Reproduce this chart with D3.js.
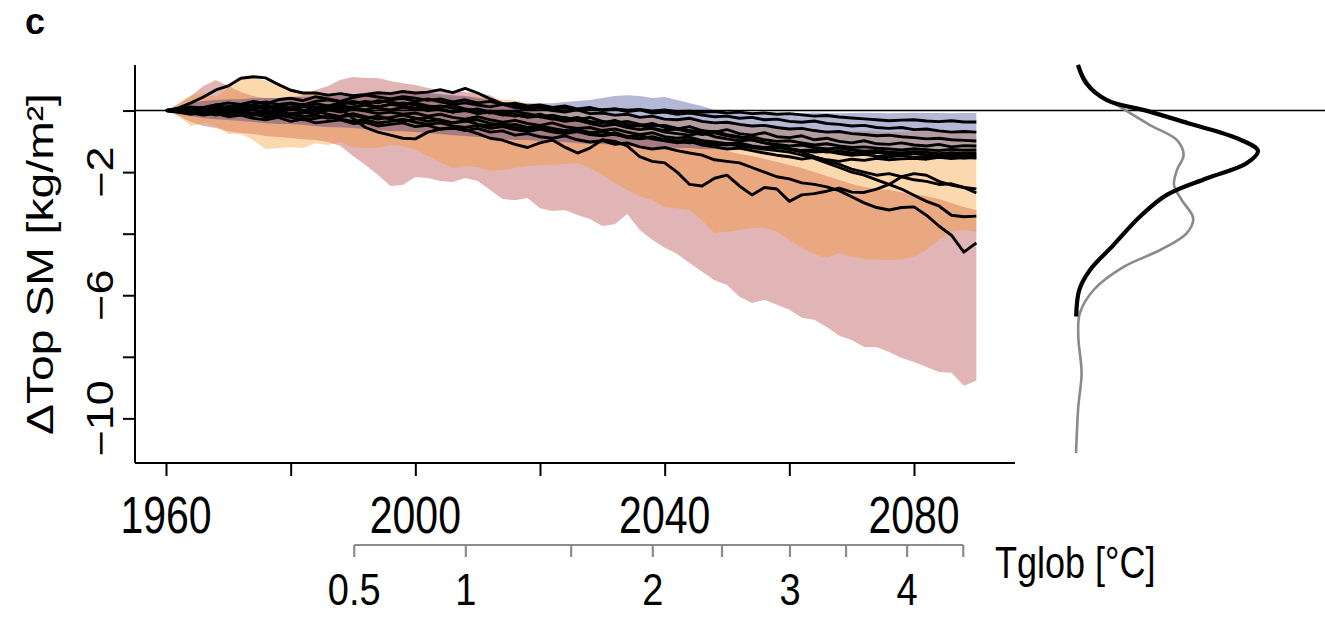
<!DOCTYPE html>
<html>
<head>
<meta charset="utf-8">
<script src="https://cdn.jsdelivr.net/npm/d3@7"></script>
<style>
  body { margin: 0; background: #fff; }
  svg { display: block; }
  text { font-family: "Liberation Sans", Arial, Helvetica, sans-serif; fill: #000; }
</style>
</head>
<body>
<svg id="chart" width="1325" height="617"></svg>
<script>
// ---- data (top-soil-moisture change, kg/m2, every second year) ----
const years = d3.range(1960, 2092, 2);

const pinkLow = [0,-0.18,-0.37,-0.50,-0.57,-0.67,-0.73,-0.76,-0.83,-0.86,-0.89,-0.93,-0.96,-1.02,-1.15,-1.48,-1.77,-2.09,-2.45,-2.42,-2.16,-2.19,-2.29,-2.32,-2.19,-2.29,-2.58,-2.87,-2.91,-2.84,-3.17,-3.26,-3.23,-3.39,-3.52,-3.75,-3.69,-3.36,-3.88,-4.20,-4.46,-4.66,-4.95,-5.24,-5.51,-5.67,-6.05,-6.25,-6.15,-6.31,-6.47,-6.73,-6.80,-7.03,-7.32,-7.45,-7.68,-7.68,-7.84,-8.04,-8.17,-8.33,-8.49,-8.52,-8.94,-8.78];
const pinkHigh = [0,0.21,0.47,0.80,0.99,0.80,0.60,0.47,0.41,0.41,0.44,0.50,0.67,0.80,1.00,1.09,1.06,1.06,0.96,0.89,0.83,0.73,0.67,0.60,0.60,0.57,0.50,0.28,0.11,0.02,-0.05,-0.18,-0.24,-0.34,-0.37,-0.47,-0.54,-0.63,-0.70,-0.76,-0.83,-0.93,-1.02,-1.12,-1.22,-1.31,-1.41,-1.48,-1.57,-1.67,-1.77,-1.87,-2.00,-2.13,-2.26,-2.39,-2.48,-2.55,-2.58,-2.65,-2.71,-2.78,-2.87,-3.00,-3.13,-3.23];

const orangeLow = [0,-0.18,-0.50,-0.41,-0.50,-0.76,-0.76,-0.96,-1.25,-1.22,-1.19,-1.22,-1.06,-1.12,-1.02,-1.19,-1.22,-1.22,-1.12,-1.15,-1.28,-1.48,-1.67,-1.87,-1.80,-1.83,-1.96,-1.93,-1.87,-1.80,-1.77,-1.77,-1.74,-1.70,-1.87,-2.09,-2.35,-2.58,-2.78,-2.91,-3.13,-3.17,-3.23,-3.56,-3.98,-3.94,-3.88,-3.81,-3.81,-3.94,-4.20,-4.46,-4.66,-4.79,-4.63,-4.76,-4.82,-4.85,-4.85,-4.85,-4.76,-4.53,-4.20,-3.94,-3.88,-3.94];
const orangeHigh = [0,0.24,0.50,0.57,0.44,0.73,1.06,1.09,0.96,0.86,0.73,0.60,0.54,0.47,0.47,0.50,0.50,0.54,0.60,0.60,0.57,0.54,0.47,0.44,0.47,0.44,0.41,0.34,0.34,0.24,0.18,0.11,0.08,0.02,-0.05,-0.08,-0.11,-0.15,-0.18,-0.21,-0.24,-0.28,-0.31,-0.34,-0.37,-0.41,-0.44,-0.47,-0.50,-0.54,-0.57,-0.60,-0.63,-0.63,-0.67,-0.67,-0.67,-0.67,-0.70,-0.70,-0.67,-0.67,-0.67,-0.70,-0.67,-0.67];

const blueLow = [0,-0.11,-0.18,-0.24,-0.28,-0.31,-0.34,-0.37,-0.41,-0.44,-0.44,-0.47,-0.50,-0.54,-0.54,-0.57,-0.60,-0.63,-0.67,-0.67,-0.70,-0.73,-0.76,-0.80,-0.83,-0.86,-0.89,-0.93,-0.96,-0.96,-0.99,-1.02,-1.02,-1.06,-1.09,-1.09,-1.12,-1.15,-1.15,-1.19,-1.19,-1.22,-1.22,-1.25,-1.25,-1.28,-1.28,-1.31,-1.31,-1.33,-1.35,-1.35,-1.36,-1.38,-1.38,-1.39,-1.40,-1.40,-1.41,-1.42,-1.42,-1.43,-1.43,-1.44,-1.44,-1.45];
const blueHigh = [0,0.15,0.24,0.31,0.34,0.37,0.37,0.41,0.41,0.41,0.44,0.44,0.47,0.47,0.50,0.50,0.50,0.54,0.54,0.57,0.57,0.57,0.54,0.50,0.47,0.41,0.34,0.28,0.24,0.24,0.24,0.24,0.28,0.31,0.34,0.41,0.47,0.50,0.47,0.41,0.44,0.34,0.24,0.15,0.02,-0.05,-0.08,-0.05,-0.05,-0.08,-0.07,-0.08,-0.06,-0.08,-0.09,-0.08,-0.07,-0.08,-0.09,-0.08,-0.07,-0.08,-0.08,-0.09,-0.08,-0.08];

// individual simulations
const run01 = [0,0.08,0.25,0.44,0.67,0.80,1.05,1.10,1.06,0.85,0.66,0.57,0.57,0.50,0.55,0.48,0.52,0.58,0.55,0.62,0.57,0.60,0.68,0.58,0.72,0.57,0.38,0.22,0.18,0.10,0.12,0.05,0.08,0.02,0.06,0.03,0.05,0.01,0.04,-0.02,0.02,-0.04,-0.02,-0.06,-0.03,-0.08,-0.05,-0.10,-0.08,-0.12,-0.10,-0.14,-0.18,-0.16,-0.21,-0.24,-0.27,-0.30,-0.33,-0.31,-0.30,-0.34,-0.36,-0.33,-0.37,-0.37];
const run02 = [0,-0.05,-0.10,0.05,-0.02,-0.12,-0.05,-0.15,-0.08,-0.18,-0.10,-0.05,-0.12,0.02,0.05,-0.25,-0.55,-0.70,-0.80,-0.90,-0.92,-0.70,-0.60,-0.58,-0.62,-0.75,-0.90,-0.96,-1.10,-1.20,-1.05,-0.96,-1.19,-1.38,-1.22,-0.95,-1.00,-1.15,-1.50,-1.65,-1.70,-2.00,-2.40,-2.45,-2.20,-2.10,-2.45,-2.74,-2.50,-2.55,-2.95,-2.74,-2.70,-2.62,-2.52,-2.65,-2.66,-2.55,-2.40,-2.15,-2.05,-2.10,-2.30,-2.42,-2.50,-2.68];
const run03 = [0,0.02,-0.08,-0.15,-0.10,-0.20,-0.15,-0.25,-0.30,-0.22,-0.35,-0.28,-0.40,-0.35,-0.30,-0.42,-0.38,-0.50,-0.45,-0.40,-0.52,-0.48,-0.60,-0.55,-0.65,-0.58,-0.70,-0.66,-0.80,-0.75,-0.85,-0.90,-0.82,-0.95,-1.02,-0.98,-1.10,-1.05,-1.18,-1.25,-1.20,-1.30,-1.38,-1.45,-1.60,-1.65,-1.70,-1.85,-2.00,-2.15,-2.22,-2.35,-2.40,-2.48,-2.60,-2.80,-3.00,-3.15,-3.23,-3.15,-3.13,-3.40,-3.75,-4.05,-4.60,-4.30];
const run04 = [0,0.02,-0.06,0.04,-0.03,-0.10,-0.05,-0.12,-0.20,-0.15,-0.22,-0.30,-0.25,-0.18,-0.28,-0.35,-0.30,-0.40,-0.35,-0.28,-0.38,-0.45,-0.40,-0.50,-0.55,-0.48,-0.58,-0.52,-0.62,-0.68,-0.60,-0.70,-0.75,-0.68,-0.78,-0.82,-0.76,-0.88,-0.92,-0.85,-0.95,-1.00,-0.95,-1.05,-1.10,-1.08,-1.15,-1.20,-1.25,-1.30,-1.35,-1.45,-1.55,-1.70,-1.85,-2.00,-2.10,-2.25,-2.40,-2.55,-2.75,-2.95,-3.10,-3.40,-3.45,-3.43];
const run05 = [0,-0.02,0.04,0.10,0.05,0.12,0.20,0.15,0.08,0.15,0.22,0.15,0.05,0.12,0.20,0.28,0.20,0.12,0.20,0.25,0.18,0.10,0.15,0.08,0.00,0.05,-0.05,-0.10,-0.02,-0.12,-0.20,-0.15,-0.25,-0.30,-0.22,-0.35,-0.40,-0.35,-0.45,-0.50,-0.48,-0.58,-0.65,-0.70,-0.68,-0.78,-0.85,-0.95,-1.05,-1.15,-1.25,-1.35,-1.50,-1.62,-1.75,-1.90,-2.00,-2.10,-2.05,-2.15,-2.25,-2.30,-2.40,-2.38,-2.50,-2.55];
const run06 = [0,0.05,0.12,0.08,0.18,0.25,0.20,0.30,0.22,0.35,0.40,0.32,0.45,0.38,0.30,0.42,0.50,0.44,0.38,0.45,0.40,0.33,0.38,0.28,0.35,0.25,0.30,0.20,0.24,0.15,0.18,0.10,0.15,0.05,0.10,0.00,0.05,-0.03,0.02,-0.08,-0.05,-0.12,-0.08,-0.15,-0.20,-0.18,-0.25,-0.22,-0.30,-0.28,-0.35,-0.38,-0.34,-0.42,-0.45,-0.50,-0.48,-0.55,-0.58,-0.55,-0.62,-0.60,-0.66,-0.70,-0.68,-0.70];
const run07 = [0,-0.03,0.05,0.10,0.02,0.15,0.10,0.20,0.28,0.20,0.25,0.18,0.30,0.35,0.28,0.22,0.30,0.25,0.35,0.40,0.30,0.38,0.28,0.20,0.25,0.18,0.12,0.20,0.10,0.05,0.08,0.00,-0.05,0.02,-0.10,-0.08,-0.15,-0.12,-0.22,-0.18,-0.28,-0.30,-0.25,-0.35,-0.40,-0.38,-0.45,-0.50,-0.48,-0.55,-0.60,-0.58,-0.65,-0.70,-0.68,-0.75,-0.78,-0.82,-0.80,-0.85,-0.88,-0.92,-0.90,-0.95,-0.97,-0.99];
const run08 = [0,0.06,0.00,0.10,0.18,0.08,0.15,0.05,0.12,0.02,0.10,0.20,0.12,0.05,0.15,0.10,0.02,0.12,0.20,0.15,0.08,0.00,0.05,-0.05,0.02,-0.10,-0.05,-0.15,-0.12,-0.22,-0.18,-0.25,-0.30,-0.22,-0.35,-0.40,-0.32,-0.45,-0.50,-0.42,-0.55,-0.60,-0.52,-0.65,-0.70,-0.62,-0.75,-0.80,-0.72,-0.85,-0.88,-0.82,-0.95,-0.90,-1.00,-1.05,-0.98,-1.08,-1.10,-1.05,-1.12,-1.15,-1.10,-1.18,-1.14,-1.15];
const run09 = [0,-0.05,-0.12,-0.05,-0.15,-0.08,-0.02,-0.10,0.00,-0.08,0.05,-0.02,0.08,0.15,0.05,0.12,0.18,0.08,0.02,0.10,0.05,0.12,0.02,-0.05,0.00,-0.08,-0.02,-0.12,-0.18,-0.10,-0.20,-0.28,-0.22,-0.32,-0.40,-0.35,-0.45,-0.52,-0.48,-0.58,-0.65,-0.60,-0.70,-0.78,-0.72,-0.82,-0.88,-0.85,-0.95,-1.00,-0.98,-1.05,-1.12,-1.08,-1.15,-1.20,-1.18,-1.22,-1.25,-1.28,-1.24,-1.27,-1.30,-1.26,-1.29,-1.28];
const run10 = [0,0.03,-0.05,0.05,0.12,0.05,0.00,0.08,0.18,0.10,0.02,0.12,0.22,0.15,0.25,0.30,0.22,0.32,0.28,0.20,0.25,0.15,0.10,0.18,0.05,0.00,-0.08,-0.02,-0.15,-0.20,-0.12,-0.25,-0.35,-0.30,-0.42,-0.50,-0.45,-0.55,-0.62,-0.58,-0.70,-0.75,-0.80,-0.72,-0.85,-0.92,-0.98,-0.95,-1.05,-1.10,-1.15,-1.12,-1.20,-1.25,-1.22,-1.28,-1.32,-1.30,-1.35,-1.38,-1.34,-1.36,-1.40,-1.37,-1.39,-1.38];
const run11 = [0,-0.02,0.05,-0.05,0.00,-0.10,-0.05,-0.15,-0.08,-0.02,-0.12,-0.20,-0.15,-0.25,-0.18,-0.10,-0.20,-0.28,-0.22,-0.15,-0.25,-0.35,-0.30,-0.40,-0.32,-0.45,-0.50,-0.42,-0.55,-0.60,-0.52,-0.62,-0.70,-0.65,-0.75,-0.80,-0.72,-0.85,-0.90,-0.88,-0.95,-1.00,-1.05,-0.98,-1.10,-1.12,-1.08,-1.18,-1.22,-1.20,-1.25,-1.30,-1.28,-1.35,-1.32,-1.38,-1.40,-1.36,-1.42,-1.45,-1.40,-1.44,-1.47,-1.42,-1.46,-1.44];
const run12 = [0,0.04,0.10,0.02,0.08,-0.02,0.05,0.12,0.05,0.15,0.08,0.00,0.10,0.02,-0.05,0.05,-0.02,-0.10,-0.05,-0.12,-0.08,-0.18,-0.12,-0.22,-0.28,-0.20,-0.30,-0.38,-0.32,-0.42,-0.48,-0.40,-0.52,-0.58,-0.55,-0.65,-0.60,-0.70,-0.78,-0.72,-0.85,-0.90,-0.86,-0.98,-1.02,-1.08,-1.05,-1.15,-1.20,-1.18,-1.25,-1.30,-1.35,-1.32,-1.40,-1.45,-1.42,-1.48,-1.50,-1.46,-1.52,-1.49,-1.53,-1.50,-1.54,-1.51];
const run13 = [0,-0.04,0.02,-0.08,-0.02,0.06,-0.04,0.02,-0.10,-0.05,-0.15,-0.08,-0.02,-0.12,-0.20,-0.15,-0.25,-0.18,-0.28,-0.35,-0.28,-0.22,-0.32,-0.40,-0.35,-0.30,-0.42,-0.48,-0.45,-0.55,-0.50,-0.58,-0.65,-0.60,-0.72,-0.68,-0.78,-0.85,-0.80,-0.92,-0.98,-1.05,-1.00,-1.12,-1.18,-1.25,-1.22,-1.30,-1.38,-1.45,-1.50,-1.58,-1.52,-1.60,-1.65,-1.58,-1.62,-1.55,-1.60,-1.57,-1.55,-1.58,-1.52,-1.56,-1.53,-1.54];
const runs = [run01, run02, run03, run04, run05, run06, run07, run08, run09, run10, run11, run12, run13];

// axes
const yearTicks = [1960, 1980, 2000, 2020, 2040, 2060, 2080];
const yearLabels = [1960, 2000, 2040, 2080];
const smTicks = [0, -2, -4, -6, -8, -10];
const smLabels = [-2, -6, -10];
const tglobTicks = [0.5, 1, 1.5, 2, 2.5, 3, 3.5, 4, 4.5];
const tglobYears = [1990.2, 2008.1, 2025.0, 2038.1, 2049.2, 2060.1, 2069.1, 2078.9, 2087.9];
const tglobLabels = [0.5, 1, 2, 3, 4];

// distribution of the end-of-century change (side panel)
const densLevelsA = [1.48, 0.88, 0.34, -0.01, -0.42, -0.90, -1.31, -1.71, -2.20, -2.74, -3.45, -4.37, -5.18, -5.83, -6.69];
const densA = [0.005, 0.019, 0.053, 0.120, 0.190, 0.270, 0.305, 0.286, 0.220, 0.153, 0.108, 0.064, 0.025, 0.007, 0.002];
const densLevelsB = [1.48, 0.67, 0.12, -0.47, -0.96, -1.44, -1.93, -2.42, -2.91, -3.50, -3.99, -4.53, -5.08, -5.83, -6.59, -7.34, -8.53, -9.62, -11.13];
const densB = [0.004, 0.031, 0.075, 0.125, 0.170, 0.181, 0.170, 0.165, 0.178, 0.197, 0.186, 0.142, 0.081, 0.031, 0.008, 0.0055, 0.011, 0.0055, 0.0017];

// ---- drawing ----
const svg = d3.select("#chart");
const SY = 1.25; // vertical stretch of the lettering
const minus = v => String(v).replace("-", "\u2212");

const x = d3.scaleLinear().domain([1960, 2080]).range([166, 914]);
const y = d3.scaleLinear().domain([1.48, -11.45]).range([65, 463]);
const dx = d3.scaleLinear().domain([0, 0.3]).range([1075, 1255]);

const bands = [
  {lo: pinkLow, hi: pinkHigh, color: "rgb(153,0,2)", op: 0.29},
  {lo: orangeLow, hi: orangeHigh, color: "rgb(247,148,32)", op: 0.36},
  {lo: blueLow, hi: blueHigh, color: "rgb(30,35,135)", op: 0.33}
];
const area = d3.area().x((d, i) => x(years[i])).y0(d => y(d[0])).y1(d => y(d[1]));
bands.forEach(b => {
  svg.append("path")
    .datum(b.lo.map((v, i) => [v, b.hi[i]]))
    .attr("d", area)
    .attr("fill", b.color).attr("fill-opacity", b.op);
});

// zero line across the main and side panels
svg.append("line").attr("x1", 135).attr("x2", 1325)
  .attr("y1", y(0)).attr("y2", y(0)).attr("stroke", "#000").attr("stroke-width", 1.6);

const line = d3.line().x((d, i) => x(years[i])).y(d => y(d));
runs.forEach(r => {
  svg.append("path").datum(r).attr("d", line)
    .attr("fill", "none").attr("stroke", "#000").attr("stroke-width", 2.9)
    .attr("stroke-linejoin", "round");
});

// left axis
const yAxis = d3.axisLeft(y).tickValues(smTicks).tickSize(12).tickFormat("");
const gy = svg.append("g").attr("transform", "translate(135,0)").call(yAxis);
gy.select(".domain").attr("d", `M0,${y.range()[0]}V${y.range()[1]}`);
gy.selectAll("path,line").attr("stroke", "#000").attr("stroke-width", 2);
smLabels.forEach(v => {
  svg.append("text")
    .attr("transform", `translate(113,${y(v)}) scale(1,${SY}) rotate(-90)`)
    .attr("text-anchor", "middle").attr("font-size", 36)
    .text(minus(v));
});
svg.append("text")
  .attr("transform", `translate(53,${(y.range()[0] + y.range()[1]) / 2}) scale(1,${SY}) rotate(-90)`)
  .attr("text-anchor", "middle").attr("font-size", 37)
  .text("\u0394Top SM [kg/m\u00B2]");

// bottom axis
const xAxis = d3.axisBottom(x).tickValues(yearTicks).tickSize(13).tickFormat("");
const gx = svg.append("g").attr("transform", "translate(0,463)").call(xAxis);
gx.select(".domain").attr("d", "M135,0H1015");
gx.selectAll("path,line").attr("stroke", "#000").attr("stroke-width", 2);
yearLabels.forEach(v => {
  svg.append("text")
    .attr("transform", `translate(${x(v)},533) scale(1,${SY})`)
    .attr("text-anchor", "middle").attr("font-size", 41).text(v);
});

// global warming level axis
const tx = tglobYears.map(v => x(v));
svg.append("path").attr("d", `M${tx[0]},545H${tx[tx.length - 1]}`)
  .attr("stroke", "#8c8c8c").attr("stroke-width", 2.2).attr("fill", "none");
tglobTicks.forEach((t, i) => {
  svg.append("line").attr("x1", tx[i]).attr("x2", tx[i]).attr("y1", 545).attr("y2", 557)
    .attr("stroke", "#8c8c8c").attr("stroke-width", 2.2);
});
tglobLabels.forEach(t => {
  const i = tglobTicks.indexOf(t);
  svg.append("text")
    .attr("transform", `translate(${tx[i]},605) scale(1,1.15)`)
    .attr("text-anchor", "middle").attr("font-size", 38).text(t);
});
svg.append("text")
  .attr("transform", `translate(995,578) scale(1,${SY})`)
  .attr("font-size", 36).text("Tglob [\u00B0C]");

// side panel: distributions
const dline = (levels) => d3.line().x(d => dx(d)).y((d, i) => y(levels[i])).curve(d3.curveCatmullRom.alpha(0.5));
svg.append("path").datum(densB).attr("d", dline(densLevelsB))
  .attr("fill", "none").attr("stroke", "#8a8a8a").attr("stroke-width", 2.6);
svg.append("path").datum(densA).attr("d", dline(densLevelsA))
  .attr("fill", "none").attr("stroke", "#000").attr("stroke-width", 4.2);

// panel letter
svg.append("text").attr("transform", "translate(25,34)")
  .attr("font-size", 36).attr("font-weight", "bold").text("c");
</script>
</body>
</html>
